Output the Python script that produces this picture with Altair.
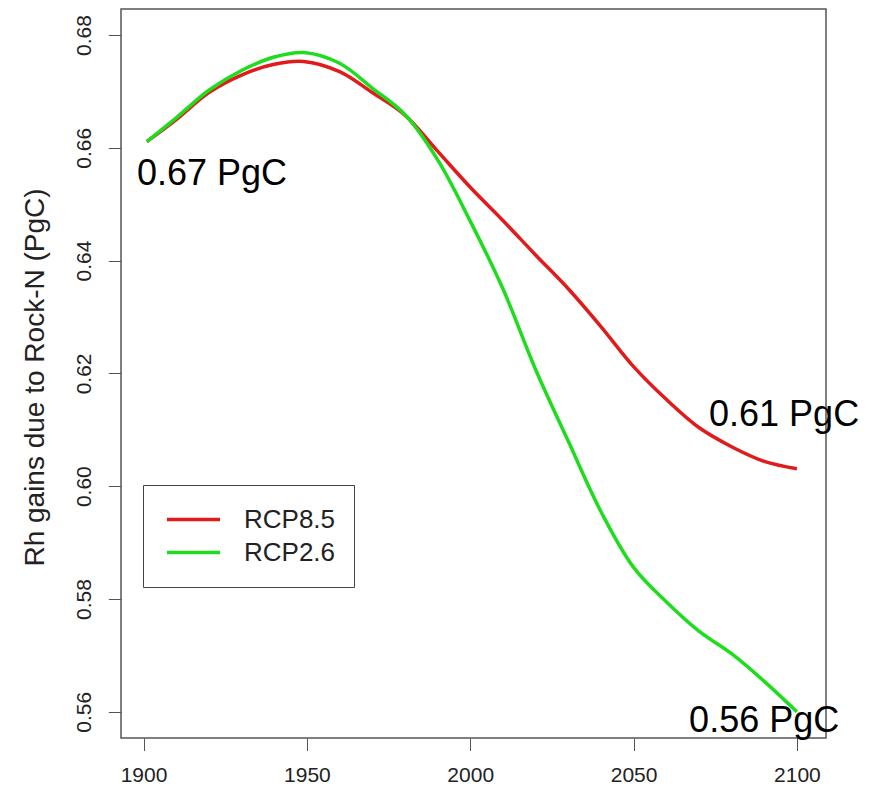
import altair as alt
import pandas as pd

years = [1901, 1910, 1920, 1930, 1940, 1949, 1960, 1970, 1980, 1990, 2000,
         2010, 2020, 2030, 2040, 2050, 2060, 2070, 2080, 2090, 2100]
rcp85 = [0.6611, 0.6650, 0.6698, 0.6729, 0.6748, 0.6753, 0.6735, 0.6698, 0.6658,
         0.6594, 0.6530, 0.6471, 0.6410, 0.6350, 0.6283, 0.6212, 0.6154, 0.6104,
         0.6070, 0.6044, 0.6031]
rcp26 = [0.6611, 0.6653, 0.6702, 0.6737, 0.6761, 0.6769, 0.6750, 0.6706, 0.6659,
         0.6579, 0.6470, 0.6350, 0.6207, 0.6080, 0.5955, 0.5856, 0.5795, 0.5743,
         0.5703, 0.5654, 0.5600]
series_names = ["RCP8.5", "RCP2.6"]
series_colors = ["#e01b1b", "#1fdc1f"]

x_ticks = [1900, 1950, 2000, 2050, 2100]
y_ticks = [0.56, 0.58, 0.60, 0.62, 0.64, 0.66, 0.68]

ann_text = ["0.67 PgC", "0.61 PgC", "0.56 PgC"]
ann_year = [1898.0, 2073.1, 2067.0]
ann_val = [0.6534, 0.6107, 0.5565]

df = pd.DataFrame({
    "year": years * 2,
    "value": rcp85 + rcp26,
    "series": [series_names[0]] * len(years) + [series_names[1]] * len(years),
})
ann = pd.DataFrame({"text": ann_text, "year": ann_year, "value": ann_val})

font = "Liberation Sans"
xscale = alt.Scale(domain=[1893.1, 2108.9], nice=False, zero=False)
yscale = alt.Scale(domain=[0.55535, 0.68461], nice=False, zero=False)

xaxis = alt.Axis(values=x_ticks, format="d", title=None, grid=False, domain=False,
                 tickSize=12.5, tickColor="#555", tickWidth=1,
                 labelFont=font, labelFontSize=21, labelColor="#222",
                 labelBaseline="alphabetic", labelPadding=31, labelFlush=False)
yaxis = alt.Axis(values=y_ticks, format=".2f", title="Rh gains due to Rock-N (PgC)",
                 grid=False, domain=False, tickSize=12.7, tickColor="#555", tickWidth=1,
                 labelFont=font, labelFontSize=21, labelColor="#222", labelAngle=270,
                 labelAlign="center", labelBaseline="alphabetic", labelPadding=17.6,
                 labelFlush=False,
                 titleFont=font, titleFontSize=28, titleFontWeight="normal", titleColor="#222",
                 titleAngle=270, titleAlign="center", titleBaseline="alphabetic",
                 titleX=-78, titleY=368)

color = alt.Color("series:N",
                  scale=alt.Scale(domain=series_names, range=series_colors),
                  sort=series_names,
                  legend=alt.Legend(title=None, orient="none", legendX=22, legendY=476,
                                    strokeColor="#444", fillColor="white", padding=18,
                                    symbolType="stroke", symbolSize=2809,
                                    symbolStrokeWidth=3.5, symbolOffset=4,
                                    labelOffset=22, labelFont=font, labelFontSize=26,
                                    labelColor="#222", clipHeight=33, rowPadding=0))

base = alt.Chart(df)
red = base.transform_filter(alt.datum.series == series_names[0]).mark_line(
    strokeWidth=3.5, interpolate="catmull-rom").encode(
    x=alt.X("year:Q", scale=xscale, axis=xaxis),
    y=alt.Y("value:Q", scale=yscale, axis=yaxis),
    color=color)
green = base.transform_filter(alt.datum.series == series_names[1]).mark_line(
    strokeWidth=3.5, interpolate="catmull-rom").encode(
    x=alt.X("year:Q", scale=xscale),
    y=alt.Y("value:Q", scale=yscale),
    color=color)
texts = alt.Chart(ann).mark_text(align="left", baseline="alphabetic", font=font,
                                 fontSize=36, color="#000").encode(
    x=alt.X("year:Q", scale=xscale),
    y=alt.Y("value:Q", scale=yscale),
    text="text:N")

chart = alt.layer(red, green, texts).properties(
    width=705, height=729,
    background="white",
    autosize=alt.AutoSizeParams(type="none"),
    padding={"left": 113, "top": 1, "right": 35, "bottom": 49},
).configure_view(stroke="#555", strokeWidth=1.5, fill="white")

chart.save("out.html", embed_options={"renderer": "svg", "actions": False})
